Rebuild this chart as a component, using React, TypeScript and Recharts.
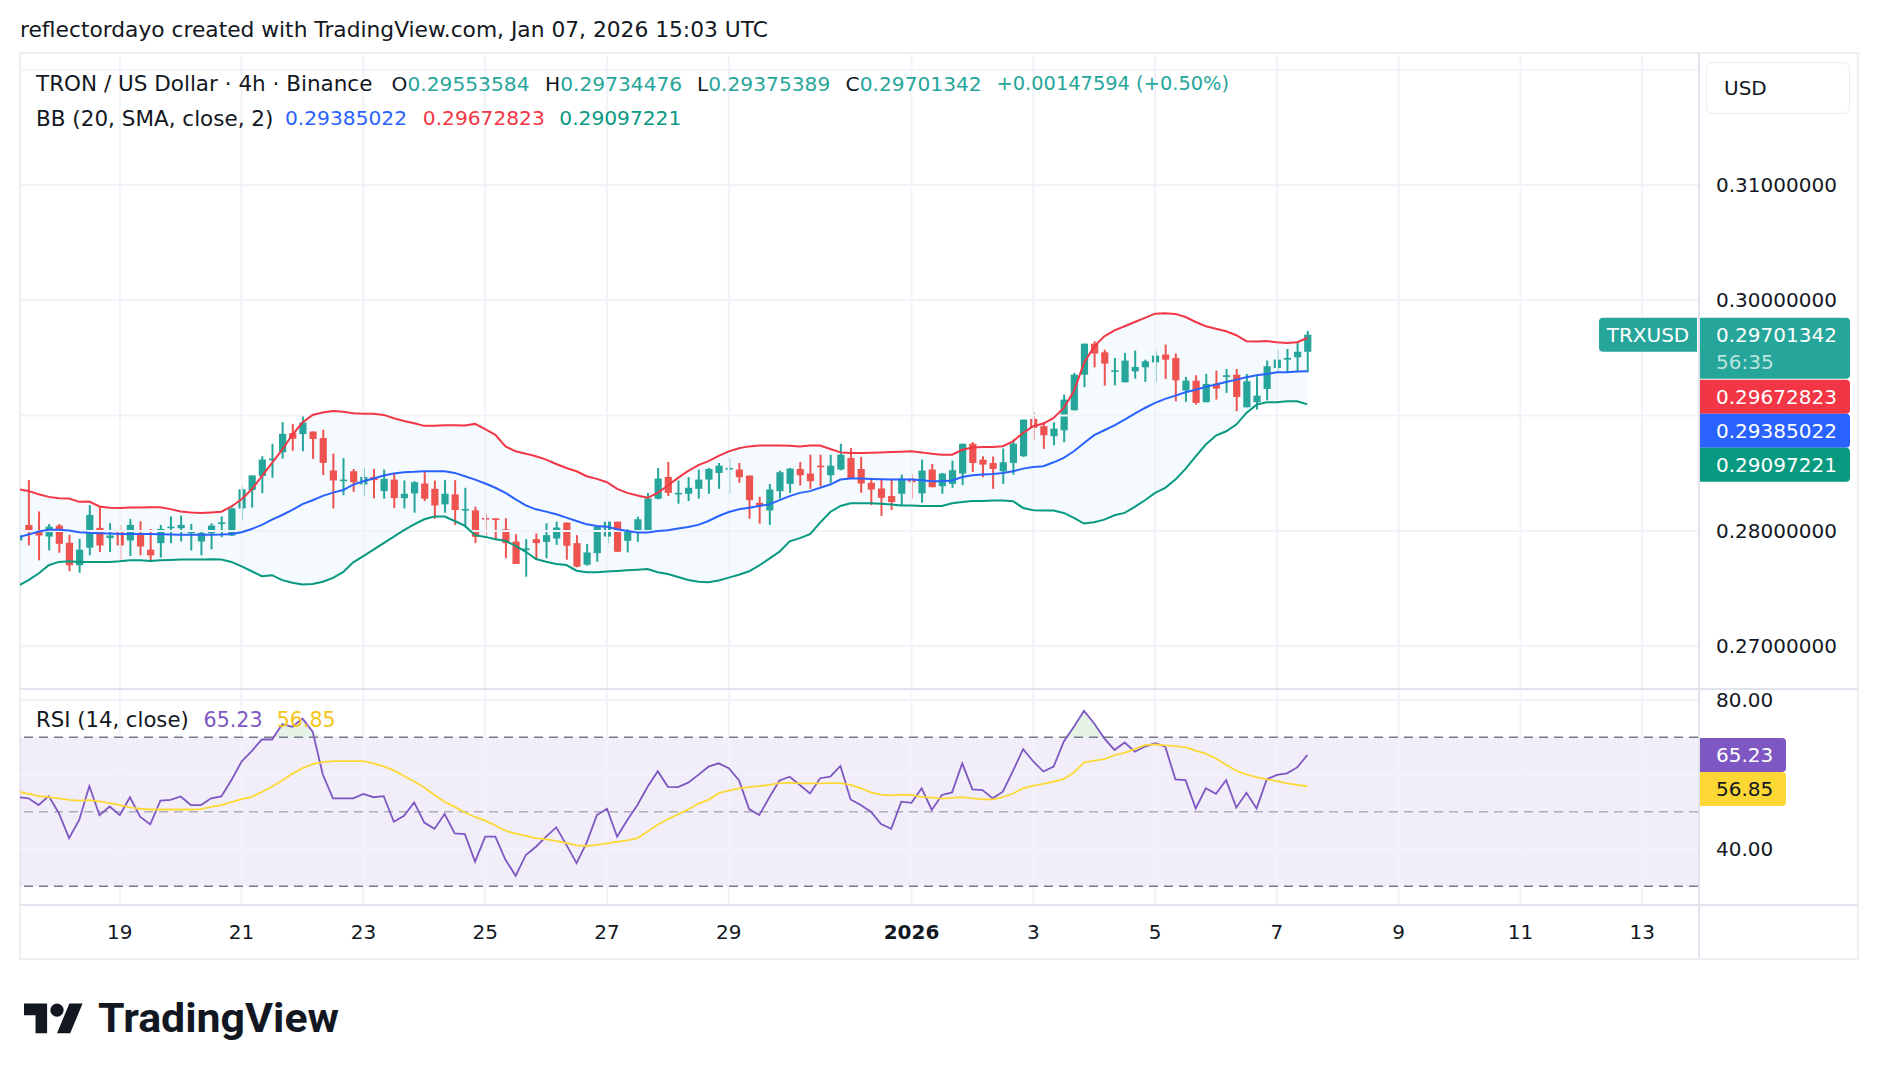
import React from "react";
import {
  ComposedChart,
  Bar,
  Line,
  Area,
  XAxis,
  YAxis,
  ReferenceLine,
  ReferenceArea,
} from "recharts";

const FONT = '"DejaVu Sans", "Noto Sans", sans-serif';
const INK = "#131722";
const UP = "#26a69a";
const DOWN = "#ef5350";
const GRID = "#f0f3fa";
const BB_BASIS = "#2962ff";
const BB_UPPER = "#f23645";
const BB_LOWER = "#089981";
const RSI_COLOR = "#7e57c2";
const RSI_MA_COLOR = "#fdd835";

// 4h bars; bar index 0 is Dec 19 00:00 UTC, one step = 4 hours
const FIRST_BAR = -10;

const open = [
  0.27917, 0.28052, 0.27989, 0.27951, 0.28046, 0.27897, 0.27702, 0.27854, 0.28026, 0.27937,
  0.27989, 0.27917, 0.27971, 0.27837, 0.27894, 0.28023, 0.28023, 0.2798, 0.27908, 0.2798,
  0.2806, 0.2796, 0.28195, 0.28355, 0.28476, 0.28613, 0.28682, 0.28848, 0.2884, 0.28862,
  0.28805, 0.28524, 0.28437, 0.28517, 0.28402, 0.28468, 0.28345, 0.28445, 0.28284, 0.28325,
  0.28411, 0.28365, 0.2823, 0.28316, 0.28181, 0.28178, 0.28112, 0.28109, 0.28014, 0.27908,
  0.27836, 0.27928, 0.27905, 0.27934, 0.28072, 0.27894, 0.27707, 0.27807, 0.27951, 0.2808,
  0.27914, 0.27986, 0.28006, 0.28279, 0.28468, 0.28322, 0.28322, 0.28365, 0.28445, 0.28503,
  0.28537, 0.28532, 0.2848, 0.28244, 0.28178, 0.28345, 0.28408, 0.28537, 0.28497, 0.28566,
  0.28483, 0.28532, 0.28632, 0.28537, 0.28417, 0.28368, 0.28302, 0.28322, 0.28454, 0.28325,
  0.28532, 0.28388, 0.28408, 0.28497, 0.28756, 0.28618, 0.28589, 0.28517, 0.2859, 0.28647,
  0.28971, 0.28908, 0.28821, 0.28873, 0.29046, 0.29355, 0.29624, 0.29549, 0.29382, 0.29289,
  0.29384, 0.29419, 0.29462, 0.29529, 0.295, 0.29217, 0.29303, 0.29116, 0.29277, 0.29335,
  0.29355, 0.29072, 0.29116, 0.29231, 0.29413, 0.29485, 0.29506, 0.29553584,
];

const high = [
  0.28017, 0.28441, 0.28169, 0.2806, 0.2806, 0.27966, 0.27931, 0.28224, 0.28212, 0.28066,
  0.28052, 0.28103, 0.28083, 0.28017, 0.28052, 0.28126, 0.28132, 0.2806, 0.27997, 0.28066,
  0.28126, 0.28203, 0.28381, 0.28481, 0.28648, 0.28756, 0.28943, 0.28928, 0.29006, 0.28862,
  0.28877, 0.2867, 0.28632, 0.28537, 0.28546, 0.28537, 0.28532, 0.28503, 0.28437, 0.28431,
  0.28512, 0.28437, 0.2844, 0.2844, 0.28374, 0.2821, 0.28149, 0.28109, 0.28109, 0.27971,
  0.27928, 0.27977, 0.28066, 0.2808, 0.28072, 0.27963, 0.27885, 0.28043, 0.2808, 0.2808,
  0.28014, 0.28124, 0.2833, 0.28546, 0.28598, 0.28437, 0.28466, 0.28532, 0.28546, 0.28589,
  0.28632, 0.28589, 0.2848, 0.28296, 0.28408, 0.28523, 0.28546, 0.28598, 0.28661, 0.28661,
  0.28661, 0.28756, 0.28718, 0.28641, 0.2846, 0.28454, 0.28454, 0.28489, 0.28489, 0.28618,
  0.2858, 0.28503, 0.28609, 0.28756, 0.2877, 0.28647, 0.28645, 0.28714, 0.28792, 0.28965,
  0.29032, 0.28942, 0.28942, 0.29182, 0.2937, 0.29624, 0.29645, 0.29572, 0.295, 0.29543,
  0.29564, 0.29485, 0.29558, 0.29616, 0.29538, 0.29335, 0.2935, 0.29361, 0.2939, 0.29405,
  0.29405, 0.29361, 0.29341, 0.29477, 0.29572, 0.29578, 0.29645, 0.29734476,
];

const low = [
  0.27831, 0.27874, 0.27745, 0.27831, 0.27811, 0.2765, 0.27636, 0.27788, 0.27817, 0.27817,
  0.27731, 0.27782, 0.27788, 0.27731, 0.27768, 0.27894, 0.27908, 0.27831, 0.27788, 0.2784,
  0.27946, 0.27954, 0.28097, 0.28203, 0.28327, 0.28461, 0.28627, 0.28696, 0.28691, 0.28625,
  0.28484, 0.28195, 0.2831, 0.28339, 0.28302, 0.28282, 0.28279, 0.28198, 0.28195, 0.28158,
  0.28259, 0.28106, 0.28158, 0.28052, 0.28034, 0.27894, 0.27943, 0.27922, 0.27764, 0.27713,
  0.27603, 0.27764, 0.27764, 0.27879, 0.2775, 0.27684, 0.27698, 0.27733, 0.27891, 0.27819,
  0.27813, 0.27905, 0.28, 0.28273, 0.28302, 0.28236, 0.28259, 0.28279, 0.28322, 0.28365,
  0.28322, 0.28417, 0.28106, 0.28063, 0.28052, 0.28282, 0.2833, 0.28394, 0.28365, 0.28388,
  0.28417, 0.28526, 0.28451, 0.2833, 0.28224, 0.28129, 0.28181, 0.28221, 0.28279, 0.28244,
  0.28379, 0.28322, 0.28374, 0.28397, 0.28511, 0.28466, 0.28365, 0.28408, 0.28488, 0.28642,
  0.28786, 0.28711, 0.28743, 0.28769, 0.29046, 0.29246, 0.29419, 0.2926, 0.29263, 0.29289,
  0.29321, 0.29292, 0.29292, 0.29318, 0.29124, 0.29119, 0.29095, 0.29116, 0.29139, 0.29197,
  0.29038, 0.29072, 0.29052, 0.29133, 0.29376, 0.29376, 0.29376, 0.29375389,
];

const close = [
  0.2796, 0.28003, 0.2796, 0.28037, 0.27888, 0.27702, 0.27837, 0.28138, 0.27874, 0.2796,
  0.27874, 0.28052, 0.27865, 0.27788, 0.28017, 0.28037, 0.28052, 0.27994, 0.27983, 0.28046,
  0.28074, 0.28195, 0.28361, 0.28481, 0.28619, 0.28627, 0.28842, 0.28799, 0.2894, 0.28797,
  0.2859, 0.28438, 0.28445, 0.28422, 0.28468, 0.2844, 0.28451, 0.28284, 0.28322, 0.28422,
  0.28279, 0.28221, 0.28322, 0.28181, 0.2819, 0.27948, 0.28103, 0.28101, 0.27894, 0.27713,
  0.27848, 0.27894, 0.27963, 0.28029, 0.27871, 0.2769, 0.27813, 0.28034, 0.2808, 0.27819,
  0.27994, 0.28101, 0.28282, 0.28454, 0.2833, 0.2833, 0.28374, 0.28445, 0.28537, 0.28566,
  0.28546, 0.28466, 0.28267, 0.28216, 0.28359, 0.28509, 0.2854, 0.28483, 0.28431, 0.28555,
  0.28566, 0.28661, 0.28451, 0.28411, 0.28359, 0.28287, 0.2825, 0.28454, 0.28422, 0.28523,
  0.28379, 0.28497, 0.28526, 0.28756, 0.28589, 0.28575, 0.28537, 0.28595, 0.28757, 0.28965,
  0.28893, 0.28829, 0.28887, 0.29139, 0.29355, 0.29624, 0.29538, 0.29451, 0.29393, 0.29477,
  0.29422, 0.29471, 0.2952, 0.29485, 0.29306, 0.29303, 0.2911, 0.29275, 0.29234, 0.2935,
  0.29162, 0.29298, 0.29173, 0.29428, 0.29485, 0.295, 0.29553748, 0.29701342,
];

// Bollinger Bands (20, SMA, close, 2)
const bbUpper = [
  0.28361, 0.28347, 0.28318, 0.28295, 0.28284, 0.28281, 0.28252, 0.28255, 0.28212, 0.28201,
  0.28198, 0.28203, 0.28203, 0.28206, 0.28206, 0.28189, 0.28169, 0.2816, 0.28155, 0.2816,
  0.28166, 0.28212, 0.28275, 0.28361, 0.28476, 0.2859, 0.28705, 0.28834, 0.2894, 0.29006,
  0.29026, 0.2904, 0.29034, 0.2902, 0.29015, 0.29015, 0.29006, 0.28977, 0.28954, 0.28934,
  0.28911, 0.28911, 0.28917, 0.28917, 0.28914, 0.28928, 0.28882, 0.28833, 0.28733, 0.2869,
  0.2867, 0.28647, 0.28618, 0.2858, 0.28546, 0.28517, 0.28474, 0.28451, 0.28422, 0.28365,
  0.2833, 0.28307, 0.28287, 0.2833, 0.28394, 0.2846, 0.2852, 0.2857, 0.28605, 0.2865,
  0.2869, 0.28716, 0.28733, 0.28741, 0.28741, 0.28741, 0.28738, 0.28733, 0.28741, 0.28741,
  0.2871, 0.28681, 0.28675, 0.28675, 0.28678, 0.28681, 0.28684, 0.28687, 0.2869, 0.28681,
  0.2867, 0.28661, 0.28661, 0.28704, 0.28724, 0.28727, 0.28728, 0.28734, 0.28777, 0.2885,
  0.28908, 0.28931, 0.2898, 0.29066, 0.29211, 0.29457, 0.29601, 0.29688, 0.2974, 0.29775,
  0.29812, 0.29847, 0.29884, 0.29887, 0.29882, 0.29855, 0.29812, 0.29775, 0.29754, 0.29731,
  0.29697, 0.29645, 0.29642, 0.29647, 0.29636, 0.2963, 0.29636, 0.29672823,
];

const bbBasis = [
  0.27946, 0.27968, 0.27994, 0.28009, 0.28009, 0.28003, 0.27989, 0.27983, 0.2798, 0.27977,
  0.27974, 0.27974, 0.27974, 0.27974, 0.27971, 0.27968, 0.27966, 0.27966, 0.27966, 0.27966,
  0.27968, 0.27974, 0.27989, 0.28017, 0.28052, 0.28097, 0.28138, 0.28183, 0.28232, 0.28266,
  0.28304, 0.28332, 0.28354, 0.28402, 0.28431, 0.28454, 0.2848, 0.28497, 0.28509, 0.28512,
  0.28517, 0.28517, 0.28517, 0.28503, 0.28474, 0.28445, 0.28411, 0.28374, 0.2833, 0.28273,
  0.28221, 0.28187, 0.28167, 0.28144, 0.28115, 0.28086, 0.28057, 0.28043, 0.28037, 0.28014,
  0.28, 0.27986, 0.27986, 0.28, 0.28006, 0.2802, 0.28034, 0.28052, 0.28086, 0.28129,
  0.28164, 0.28187, 0.28201, 0.28216, 0.2823, 0.28267, 0.28302, 0.2833, 0.28345, 0.28374,
  0.28402, 0.28445, 0.28454, 0.28454, 0.28451, 0.28448, 0.28445, 0.28445, 0.28445, 0.2844,
  0.28431, 0.28431, 0.28437, 0.28468, 0.28483, 0.28489, 0.28494, 0.28503, 0.28517, 0.2854,
  0.28555, 0.28561, 0.28595, 0.28633, 0.28691, 0.28763, 0.2883, 0.28873, 0.28916, 0.28965,
  0.29017, 0.29066, 0.2911, 0.29145, 0.29173, 0.29202, 0.29225, 0.29249, 0.29269, 0.29292,
  0.29312, 0.29332, 0.2935, 0.29361, 0.29376, 0.29376, 0.29382, 0.29385022,
];

const bbLower = [
  0.27524, 0.27573, 0.2763, 0.27702, 0.27731, 0.27736, 0.27731, 0.27731, 0.27731, 0.27731,
  0.27736, 0.27745, 0.27745, 0.27739, 0.27745, 0.27748, 0.27751, 0.27751, 0.27751, 0.27754,
  0.27751, 0.27731, 0.27693, 0.2765, 0.27607, 0.27616, 0.27573, 0.2755, 0.27536, 0.27539,
  0.27559, 0.27593, 0.27642, 0.27727, 0.27782, 0.27837, 0.27894, 0.27951, 0.28006, 0.28057,
  0.28101, 0.28124, 0.28124, 0.28086, 0.28043, 0.27963, 0.27948, 0.27928, 0.27914, 0.27871,
  0.27819, 0.27756, 0.27733, 0.27713, 0.27704, 0.27655, 0.27641, 0.27641, 0.27647, 0.27652,
  0.27658, 0.27664, 0.2767, 0.27641, 0.27626, 0.276, 0.27575, 0.2756, 0.27555, 0.2757,
  0.27595, 0.2762, 0.2765, 0.277, 0.2776, 0.2782, 0.2791, 0.27937, 0.27971, 0.28072,
  0.28164, 0.28216, 0.28239, 0.28239, 0.28239, 0.28236, 0.2823, 0.28221, 0.28221, 0.28216,
  0.28216, 0.28216, 0.28239, 0.2825, 0.28259, 0.28259, 0.28263, 0.28263, 0.28257, 0.28199,
  0.28179, 0.28176, 0.28176, 0.28156, 0.28113, 0.28064, 0.28075, 0.28098, 0.28136, 0.28156,
  0.28208, 0.28266, 0.28329, 0.28373, 0.28445, 0.28538, 0.28647, 0.28749, 0.28827, 0.28864,
  0.28922, 0.29023, 0.29095, 0.29116, 0.29116, 0.29124, 0.29124, 0.29097221,
];

// RSI (14, close) and its moving average
const rsi = [
  53.9, 53.6, 51.8, 54.2, 49.6, 42.9, 47.8, 56.9, 49.1, 51.4,
  49.1, 53.9, 48.7, 46.6, 53.0, 53.2, 54.1, 51.8, 51.8, 53.6,
  54.1, 58.5, 63.5, 66.3, 69.4, 69.4, 73.5, 72.8, 75.0, 71.5,
  60.0, 53.6, 53.6, 53.6, 54.8, 53.9, 54.2, 47.3, 48.9, 52.5,
  47.1, 45.4, 49.4, 44.2, 44.0, 36.6, 43.3, 43.3, 37.1, 32.8,
  38.4, 40.6, 43.3, 45.8, 41.1, 36.2, 41.7, 49.1, 50.8, 43.3,
  47.8, 51.8, 56.7, 60.9, 56.7, 56.6, 57.8, 59.9, 62.1, 63.0,
  61.7, 58.5, 50.7, 49.1, 53.9, 58.4, 59.4, 57.2, 54.9, 59.0,
  59.4, 62.3, 53.3, 51.8, 50.0, 46.7, 45.4, 52.7, 52.4, 56.3,
  50.5, 54.5, 55.2, 63.0, 56.0, 55.8, 53.6, 55.4, 61.0, 66.8,
  63.5, 60.8, 62.1, 68.8, 72.8, 77.1, 73.7, 69.7, 66.6, 68.6,
  66.1, 67.5, 68.4, 67.5, 58.7, 58.5, 50.9, 56.3, 54.8, 58.5,
  51.1, 55.1, 50.9, 58.7, 59.9, 60.3, 61.9, 65.23,
];

const rsiMa = [
  55.4, 54.8, 54.2, 53.9, 53.6, 53.2, 53.0, 53.1, 52.8, 52.3,
  51.8, 51.2, 50.8, 50.6, 50.6, 50.6, 50.6, 50.6, 50.7, 51.3,
  51.8, 52.6, 53.4, 54.0, 55.3, 56.8, 58.4, 60.2, 61.7, 62.8,
  63.3, 63.6, 63.6, 63.6, 63.6, 63.0, 62.2, 61.1, 59.6, 58.1,
  56.5, 54.5, 52.7, 51.3, 49.8, 48.6, 47.6, 46.3, 44.9, 44.1,
  43.5, 42.9, 42.6, 42.2, 41.6, 41.0, 40.8, 41.1, 41.5, 41.9,
  42.3, 42.9, 44.7, 46.5, 48.0, 49.3, 50.6, 52.2, 53.2, 55.0,
  55.7, 56.3, 56.6, 56.9, 57.2, 57.7, 57.8, 57.6, 57.6, 57.6,
  57.7, 57.7, 57.2, 56.3, 55.2, 54.6, 54.4, 54.6, 54.5, 54.0,
  53.8, 53.5, 53.7, 53.9, 53.6, 53.3, 53.3, 53.9, 54.9, 56.3,
  57.0, 57.5, 58.1, 58.8, 60.5, 63.2, 63.7, 64.1, 65.2, 65.8,
  66.8, 67.9, 68.1, 67.8, 67.6, 67.3, 66.4, 65.6, 64.3, 62.6,
  61.0, 60.0, 59.3, 58.7, 58.2, 57.6, 57.2, 56.85,
];

// Day ticks on the time axis (bar index of 00:00 UTC) and their labels
const dayTicks = [0, 12, 24, 36, 48, 60, 78, 90, 102, 114, 126, 138, 150];
const dayLabels = ["19", "21", "23", "25", "27", "29", "2026", "3", "5", "7", "9", "11", "13"];
const priceTicks = [0.27, 0.28, 0.29, 0.3, 0.31, 0.32];
const priceLabelTicks = [0.27, 0.28, 0.3, 0.31];
const rsiGridTicks = [40, 60, 80];
const rsiLabelTicks = [40, 80];
const rsiLevels = [70, 50, 30];

const X_DOMAIN: [number, number] = [-9.833, 155.49];
const PRICE_DOMAIN: [number, number] = [0.266288, 0.321275];
const RSI_DOMAIN: [number, number] = [24.966, 82.685];

const rows = open.map((o, k) => ({
  t: FIRST_BAR + k,
  o,
  h: high[k],
  l: low[k],
  c: close[k],
  range: [low[k], high[k]],
  upper: bbUpper[k],
  basis: bbBasis[k],
  lower: bbLower[k],
  band: [bbLower[k], bbUpper[k]],
  rsi: rsi[k],
  ma: rsiMa[k],
  ob: [70, Math.max(70, rsi[k])],
}));

const last = rows.length - 1;
const lastClose = close[last];
const prevClose = close[last - 1];
const change = lastClose - prevClose;
const changePct = (change / prevClose) * 100;
const fmt8 = (v: number) => v.toFixed(8);

const Candle = (props: any) => {
  const { x, width, payload } = props;
  let { y, height } = props;
  if (height < 0) {
    y += height;
    height = -height;
  }
  const { o, h, l, c } = payload;
  const color = c >= o ? UP : DOWN;
  const cx = x + width / 2;
  const k = h - l > 0 ? height / (h - l) : 0;
  const bodyTop = y + (h - Math.max(o, c)) * k;
  const bodyH = Math.max(1.6, Math.abs(o - c) * k);
  return (
    <g>
      <rect x={cx - 1} y={y} width={2} height={Math.max(height, 1)} fill={color} />
      <rect x={cx - 3.6} y={bodyTop} width={7.2} height={bodyH} fill={color} />
    </g>
  );
};

const PriceTick = (props: any) => {
  const { x, y, payload } = props;
  if (!priceLabelTicks.includes(payload.value)) return <g />;
  return (
    <text x={x + 18} y={y} dominantBaseline="central" fill={INK} fontSize={20} fontFamily={FONT}>
      {payload.value.toFixed(8)}
    </text>
  );
};

const RsiTick = (props: any) => {
  const { x, y, payload } = props;
  if (!rsiLabelTicks.includes(payload.value)) return <g />;
  return (
    <text x={x + 18} y={y} dominantBaseline="central" fill={INK} fontSize={20} fontFamily={FONT}>
      {payload.value.toFixed(2)}
    </text>
  );
};

const DayTick = (props: any) => {
  const { x, y, payload } = props;
  const idx = dayTicks.indexOf(payload.value);
  const label = idx >= 0 ? dayLabels[idx] : "";
  return (
    <text
      x={x}
      y={y + 27}
      textAnchor="middle"
      dominantBaseline="central"
      fill={INK}
      fontSize={20}
      fontWeight={label === "2026" ? 700 : 400}
      fontFamily={FONT}
    >
      {label}
    </text>
  );
};

const Tag = ({ x, y, w, h, fill, r = 4, left = false }: any) => {
  const rl = left ? r : 0;
  const rr = left ? 0 : r;
  const d = `M${x + rl},${y} H${x + w - rr} Q${x + w},${y} ${x + w},${y + rr} V${y + h - rr} Q${x + w},${y + h} ${x + w - rr},${y + h} H${x + rl} Q${x},${y + h} ${x},${y + h - rl} V${y + rl} Q${x},${y} ${x + rl},${y} Z`;
  return <path d={d} fill={fill} />;
};

// Stacked last-value tags on the price scale, anchored at the last close
const PriceBadges = (props: any) => {
  const vb = props.viewBox || { x: 0, y: 0, width: 0 };
  const ax = vb.x + vb.width + 1;
  const top = vb.y - 17;
  const w = 151;
  const tx = ax + 17;
  const stack = [
    { fill: BB_UPPER, text: fmt8(bbUpper[last]) },
    { fill: BB_BASIS, text: fmt8(bbBasis[last]) },
    { fill: BB_LOWER, text: fmt8(bbLower[last]) },
  ];
  return (
    <g fontFamily={FONT} fontSize={20}>
      <Tag x={ax} y={top} w={w} h={61} fill={UP} />
      <text x={tx} y={top + 17} dominantBaseline="central" fill="#ffffff">
        {fmt8(lastClose)}
      </text>
      <text x={tx} y={top + 44} dominantBaseline="central" fill="rgba(255,255,255,0.7)">
        56:35
      </text>
      {stack.map((s, i) => (
        <g key={i}>
          <Tag x={ax} y={top + 62 + i * 34} w={w} h={34} fill={s.fill} />
          <text x={tx} y={top + 62 + i * 34 + 17} dominantBaseline="central" fill="#ffffff">
            {s.text}
          </text>
        </g>
      ))}
      <Tag x={ax - 100} y={top} w={98} h={34} fill={UP} left />
      <text x={ax - 51} y={top + 17} textAnchor="middle" dominantBaseline="central" fill="#ffffff">
        TRXUSD
      </text>
    </g>
  );
};

const RsiBadges = (props: any) => {
  const vb = props.viewBox || { x: 0, y: 0, width: 0 };
  const ax = vb.x + vb.width + 1;
  const top = vb.y - 17;
  const tx = ax + 17;
  return (
    <g fontFamily={FONT} fontSize={20}>
      <Tag x={ax} y={top} w={87} h={34} fill={RSI_COLOR} />
      <text x={tx} y={top + 17} dominantBaseline="central" fill="#ffffff">
        {rsi[last].toFixed(2)}
      </text>
      <Tag x={ax} y={top + 34} w={87} h={34} fill={RSI_MA_COLOR} />
      <text x={tx} y={top + 51} dominantBaseline="central" fill={INK}>
        {rsiMa[last].toFixed(2)}
      </text>
    </g>
  );
};

const Txt = ({ x, y, size = 21.5, color = INK, weight = 400, children }: any) => (
  <div
    style={{
      position: "absolute",
      left: x,
      top: y - size * 0.6,
      fontSize: size,
      lineHeight: `${size * 1.2}px`,
      color,
      fontWeight: weight,
      whiteSpace: "pre",
      fontFamily: FONT,
    }}
  >
    {children}
  </div>
);

const UP_TXT = "#26a69a";
const VAL = 20.2;

export default function App() {
  return (
    <div
      style={{
        position: "absolute",
        left: 0,
        top: 0,
        width: 1878,
        height: 1080,
        background: "#ffffff",
        overflow: "hidden",
        fontFamily: FONT,
      }}
    >
      <Txt x={20} y={30} size={21.75}>
        reflectordayo created with TradingView.com, Jan 07, 2026 15:03 UTC
      </Txt>

      {/* chart frame */}
      <div
        style={{
          position: "absolute",
          left: 19,
          top: 52,
          width: 1836,
          height: 904,
          border: "2px solid #eceef2",
        }}
      />

      {/* price pane */}
      <div style={{ position: "absolute", left: 20, top: 55 }}>
        <ComposedChart
          width={1838}
          height={634}
          data={rows}
          margin={{ top: 0, right: 0, bottom: 0, left: 0 }}
        >
          <XAxis dataKey="t" type="number" domain={X_DOMAIN} allowDataOverflow hide ticks={dayTicks} />
          <YAxis
            orientation="right"
            type="number"
            domain={PRICE_DOMAIN}
            allowDataOverflow
            ticks={priceTicks}
            interval={0}
            width={160}
            tickLine={false}
            axisLine={false}
            tickSize={0}
            tickMargin={0}
            tick={<PriceTick />}
          />
          {priceTicks.map((v) => (
            <ReferenceLine key={`p${v}`} y={v} stroke={GRID} strokeWidth={2} />
          ))}
          {dayTicks.map((t) => (
            <ReferenceLine key={`d${t}`} x={t} stroke={GRID} strokeWidth={2} />
          ))}
          <Area
            dataKey="band"
            type="linear"
            stroke="none"
            fill="#2196f3"
            fillOpacity={0.05}
            isAnimationActive={false}
          />
          <Line dataKey="upper" type="linear" stroke={BB_UPPER} strokeWidth={2} dot={false} isAnimationActive={false} />
          <Line dataKey="lower" type="linear" stroke={BB_LOWER} strokeWidth={2} dot={false} isAnimationActive={false} />
          <Line dataKey="basis" type="linear" stroke={BB_BASIS} strokeWidth={2} dot={false} isAnimationActive={false} />
          <Bar dataKey="range" barSize={7} shape={<Candle />} isAnimationActive={false} />
          <ReferenceLine y={lastClose} stroke="none" ifOverflow="visible" label={<PriceBadges />} />
        </ComposedChart>
      </div>

      {/* RSI pane with time axis */}
      <div style={{ position: "absolute", left: 20, top: 689 }}>
        <ComposedChart
          width={1838}
          height={270}
          data={rows}
          margin={{ top: 1, right: 0, bottom: 0, left: 0 }}
        >
          <XAxis
            dataKey="t"
            type="number"
            domain={X_DOMAIN}
            allowDataOverflow
            ticks={dayTicks}
            interval={0}
            height={54}
            tickLine={false}
            axisLine={false}
            tickSize={0}
            tickMargin={0}
            tick={<DayTick />}
          />
          <YAxis
            orientation="right"
            type="number"
            domain={RSI_DOMAIN}
            allowDataOverflow
            ticks={rsiGridTicks}
            interval={0}
            width={160}
            tickLine={false}
            axisLine={false}
            tickSize={0}
            tickMargin={0}
            tick={<RsiTick />}
          />
          <ReferenceArea y1={30} y2={70} fill={RSI_COLOR} fillOpacity={0.1} stroke="none" />
          {rsiGridTicks.map((v) => (
            <ReferenceLine key={`r${v}`} y={v} stroke={GRID} strokeWidth={2} />
          ))}
          {dayTicks.map((t) => (
            <ReferenceLine key={`rd${t}`} x={t} stroke={GRID} strokeWidth={2} />
          ))}
          {rsiLevels.map((v) => (
            <ReferenceLine
              key={`lv${v}`}
              y={v}
              stroke="#787b86"
              strokeOpacity={v === 50 ? 0.55 : 1}
              strokeWidth={1.6}
              strokeDasharray="9 6"
            />
          ))}
          <Area
            dataKey="ob"
            type="linear"
            stroke="none"
            fill="#4caf50"
            fillOpacity={0.15}
            isAnimationActive={false}
          />
          <Line dataKey="rsi" type="linear" stroke={RSI_COLOR} strokeWidth={1.8} dot={false} isAnimationActive={false} />
          <Line dataKey="ma" type="linear" stroke={RSI_MA_COLOR} strokeWidth={1.8} dot={false} isAnimationActive={false} />
          <ReferenceLine y={rsi[last]} stroke="none" ifOverflow="visible" label={<RsiBadges />} />
        </ComposedChart>
      </div>

      {/* pane separators */}
      <div style={{ position: "absolute", left: 20, top: 688, width: 1837, height: 2, background: "#e0e3eb" }} />
      <div style={{ position: "absolute", left: 20, top: 904, width: 1837, height: 2, background: "#e0e3eb" }} />
      <div style={{ position: "absolute", left: 1698, top: 54, width: 2, height: 904, background: "#e0e3eb" }} />

      {/* currency button */}
      <div
        style={{
          position: "absolute",
          left: 1706,
          top: 62,
          width: 142,
          height: 50,
          border: "1px solid #e9ebf0",
          borderRadius: 7,
          background: "#ffffff",
        }}
      />
      <Txt x={1724} y={88} size={20}>
        USD
      </Txt>

      {/* legends */}
      <Txt x={36} y={84}>TRON / US Dollar · 4h · Binance</Txt>
      <Txt x={391.6} y={84} size={VAL}>
        O<span style={{ color: UP_TXT }}>{fmt8(open[last])}</span>
      </Txt>
      <Txt x={545} y={84} size={VAL}>
        H<span style={{ color: UP_TXT }}>{fmt8(high[last])}</span>
      </Txt>
      <Txt x={697} y={84} size={VAL}>
        L<span style={{ color: UP_TXT }}>{fmt8(low[last])}</span>
      </Txt>
      <Txt x={845.6} y={84} size={VAL}>
        C<span style={{ color: UP_TXT }}>{fmt8(lastClose)}</span>
      </Txt>
      <Txt x={996.5} y={84} size={19.4} color={UP_TXT}>
        {`+${fmt8(change)} (+${changePct.toFixed(2)}%)`}
      </Txt>

      <Txt x={36} y={118.6}>BB (20, SMA, close, 2)</Txt>
      <Txt x={285} y={118.6} size={VAL} color={BB_BASIS}>{fmt8(bbBasis[last])}</Txt>
      <Txt x={422.8} y={118.6} size={VAL} color={BB_UPPER}>{fmt8(bbUpper[last])}</Txt>
      <Txt x={559.3} y={118.6} size={VAL} color={BB_LOWER}>{fmt8(bbLower[last])}</Txt>

      <Txt x={36} y={720} size={21.2}>RSI (14, close)</Txt>
      <Txt x={203.6} y={720} size={20.6} color={RSI_COLOR}>{rsi[last].toFixed(2)}</Txt>
      <Txt x={276.7} y={720} size={20.6} color="#f5c518">{rsiMa[last].toFixed(2)}</Txt>

      {/* TradingView logo */}
      <svg
        style={{ position: "absolute", left: 24, top: 997 }}
        width={59.4}
        height={46.2}
        viewBox="0 0 36 28"
      >
        <path d="M14 22H7V11H0V4h14v18zM28 22h-8l7.5-18h8L28 22z" fill={INK} />
        <circle cx="20" cy="8" r="4" fill={INK} />
      </svg>
      <svg style={{ position: "absolute", left: 90, top: 990 }} width={270} height={60}>
        <text
          x={8}
          y={42}
          fontFamily="Roboto, Inter, sans-serif"
          fontWeight={700}
          fontSize={41}
          fill={INK}
          textLength={241}
          lengthAdjust="spacingAndGlyphs"
        >
          TradingView
        </text>
      </svg>
    </div>
  );
}
